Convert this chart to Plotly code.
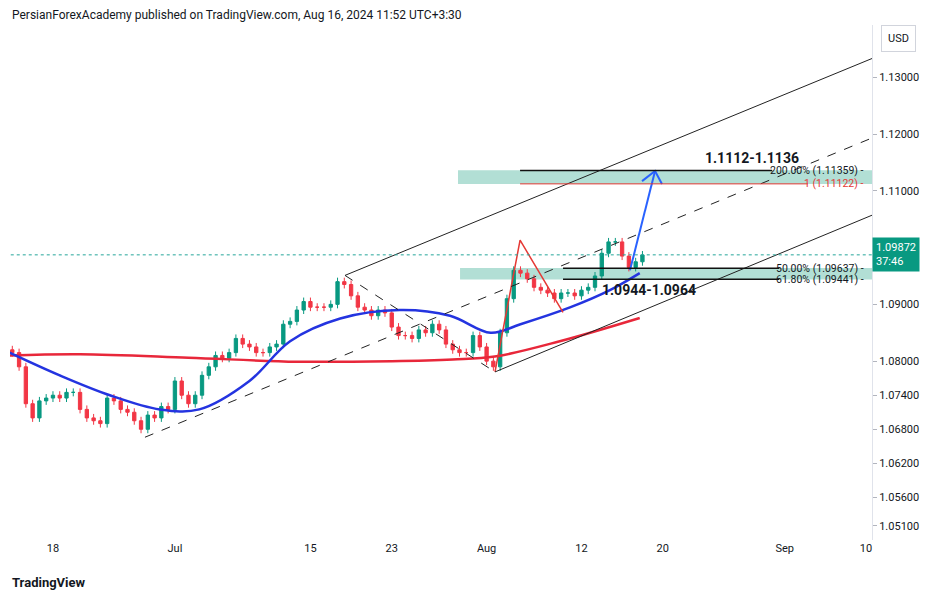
import plotly.graph_objects as go

# trading-day index: Jun 13 = -1, Jun 14 = 0, ... (weekends skipped), two bars per day
days = ["Jun13", "Jun14", "Jun17", "Jun18", "Jun19", "Jun20", "Jun21", "Jun24", "Jun25", "Jun26",
        "Jun27", "Jun28", "Jul1", "Jul2", "Jul3", "Jul4", "Jul5", "Jul8", "Jul9", "Jul10",
        "Jul11", "Jul12", "Jul15", "Jul16", "Jul17", "Jul18", "Jul19", "Jul22", "Jul23", "Jul24",
        "Jul25", "Jul26", "Jul29", "Jul30", "Jul31", "Aug1", "Aug2", "Aug5", "Aug6", "Aug7",
        "Aug8", "Aug9", "Aug12", "Aug13", "Aug14", "Aug15", "Aug16"]
closes = [1.0815, 1.0790, 1.0725, 1.0700, 1.0730, 1.0735, 1.0740, 1.0735, 1.0745, 1.0745,
          1.0715, 1.0700, 1.0695, 1.0690, 1.0735, 1.0730, 1.0715, 1.0710, 1.0695, 1.0680,
          1.0705, 1.0700, 1.0720, 1.0715, 1.0765, 1.0740, 1.0725, 1.0740, 1.0775, 1.0790,
          1.0810, 1.0805, 1.0815, 1.0840, 1.0830, 1.0825, 1.0815, 1.0815, 1.0825, 1.0830,
          1.0865, 1.0870, 1.0890, 1.0905, 1.0895, 1.0895, 1.0895, 1.0900, 1.0940, 1.0935,
          1.0915, 1.0895, 1.0890, 1.0880, 1.0890, 1.0885, 1.0860, 1.0845, 1.0845, 1.0840,
          1.0855, 1.0850, 1.0865, 1.0855, 1.0830, 1.0820, 1.0815, 1.0815, 1.0845, 1.0825,
          1.0800, 1.0790, 1.0850, 1.0910, 1.0960, 1.0955, 1.0945, 1.0930, 1.0925, 1.0920,
          1.0910, 1.0920, 1.0920, 1.0915, 1.0925, 1.0930, 1.0950, 1.0990, 1.1010, 1.1010,
          1.0985, 1.0965, 1.0975, 1.0987]
first_open = 1.0820
wick = 0.0007

ma_fast_x = [-1.2, 2.5, 6.2, 9.9, 12.8, 16.5, 19.5, 23.2, 27.6, 31.3, 34.3, 36.5, 40.2, 43.1, 45.3]
ma_fast_y = [1.0815, 1.0775, 1.0740, 1.0715, 1.0715, 1.0765, 1.0835, 1.0875, 1.0890, 1.0880,
             1.0850, 1.0865, 1.0895, 1.0925, 1.0955]
ma_slow_x = [-1.2, 4.0, 12.0, 20.0, 27.0, 31.5, 34.6, 39.4, 45.3]
ma_slow_y = [1.0810, 1.0812, 1.0806, 1.0799, 1.0800, 1.0803, 1.0808, 1.0835, 1.0876]

tick_idx = [2, 11, 21, 27, 34, 41, 47, 56, 62]
tick_txt = ["18", "Jul", "15", "23", "Aug", "12", "20", "Sep", "10"]
price_ticks = [1.13, 1.12, 1.11, 1.09, 1.08, 1.074, 1.068, 1.062, 1.056, 1.051]

# drawings (x in trading-day index, y in price)
channel = [((23.55, 1.0951), (62.44, 1.1333), "solid"),
           ((8.79, 1.0666), (62.44, 1.1193), "dash"),
           ((34.62, 1.0781), (62.44, 1.1057), "solid"),
           ((23.55, 1.0951), (34.62, 1.0781), "dash")]
zigzag_x = [34.62, 36.47, 39.64]
zigzag_y = [1.0781, 1.1013, 1.0886]
arrow_x = [44.58, 46.43]
arrow_y = [1.0960, 1.1135]
arrow_head_x = [45.47, 46.43, 46.94]
arrow_head_y = [1.1117, 1.1135, 1.1112]
zone_hi = (31.89, 1.1112, 1.1136)
zone_lo = (32.04, 1.0944, 1.0964)
last_price = 1.09872

x, o, h, l, c = [], [], [], [], []
prev = first_open
for i, cl in enumerate(closes):
    x.append(-1 + i * 0.5)
    o.append(prev)
    c.append(cl)
    h.append(max(prev, cl) + wick)
    l.append(min(prev, cl) - wick)
    prev = cl

fig = go.Figure()
fig.add_trace(go.Candlestick(x=x, open=o, high=h, low=l, close=c,
                             increasing=dict(line=dict(color="#089981", width=1), fillcolor="#089981"),
                             decreasing=dict(line=dict(color="#F23645", width=1), fillcolor="#F23645"),
                             whiskerwidth=0, showlegend=False, hoverinfo="skip"))
fig.add_trace(go.Scatter(x=ma_slow_x, y=ma_slow_y, mode="lines", line=dict(color="#e8273a", width=2.5, shape="spline"),
                         showlegend=False, hoverinfo="skip"))
fig.add_trace(go.Scatter(x=ma_fast_x, y=ma_fast_y, mode="lines", line=dict(color="#2434e0", width=2.5, shape="spline"),
                         showlegend=False, hoverinfo="skip"))

for (x0, y0), (x1, y1), dash in channel:
    fig.add_shape(type="line", x0=x0, y0=y0, x1=x1, y1=y1, line=dict(color="#222", width=1, dash=dash))
fig.add_trace(go.Scatter(x=zigzag_x, y=zigzag_y, mode="lines", line=dict(color="#e53935", width=1.5),
                         showlegend=False, hoverinfo="skip"))
fig.add_trace(go.Scatter(x=arrow_x, y=arrow_y, mode="lines", line=dict(color="#2962ff", width=2),
                         showlegend=False, hoverinfo="skip"))
fig.add_trace(go.Scatter(x=arrow_head_x, y=arrow_head_y, mode="lines", line=dict(color="#2962ff", width=2),
                         showlegend=False, hoverinfo="skip"))

# zones and fib levels
xr = 62.44
for x0, lo, hi in [zone_hi, zone_lo]:
    fig.add_shape(type="rect", x0=x0, x1=xr, y0=lo, y1=hi, fillcolor="#b2dfd5", line_width=0, layer="below")
fib = [(36.47, 55.07, 1.11359, "#111", 1.5, "200.00% (1.11359)"),
       (36.47, 57.7, 1.11122, "#e53935", 1, "1 (1.11122)"),
       (39.64, 55.6, 1.09637, "#111", 1.5, "50.00% (1.09637)"),
       (39.64, 55.6, 1.09441, "#111", 1.5, "61.80% (1.09441)")]
for x0, x1, yv, col, w, label in fib:
    fig.add_shape(type="line", x0=x0, x1=x1, y0=yv, y1=yv, line=dict(color=col, width=w))
    fig.add_annotation(x=61.9, y=yv, text=label + " -", showarrow=False, xanchor="right", borderpad=0,
                       font=dict(size=10.5, color="#e53935" if col != "#111" else "#131722"))
fig.add_shape(type="line", x0=-2, x1=xr, y0=last_price, y1=last_price, line=dict(color="#26a69a", width=1, dash="dot"))

fig.add_annotation(x=53.6, y=1.1158, text="<b>1.1112-1.1136</b>", showarrow=False, font=dict(size=14, color="#131722"))
fig.add_annotation(x=46.0, y=1.0925, text="<b>1.0944-1.0964</b>", showarrow=False, font=dict(size=14, color="#131722"))

fig.add_annotation(xref="paper", x=1.0, y=last_price, text="1.09872<br>37:46", showarrow=False, xanchor="left",
                   bgcolor="#089981", font=dict(color="white", size=11), borderpad=3, align="left")
fig.add_annotation(xref="paper", yref="paper", x=1.01, y=1.0, text="USD", showarrow=False, xanchor="left",
                   yanchor="top", bordercolor="#d1d4dc", borderwidth=1, borderpad=6, font=dict(size=11, color="#131722"))
fig.add_annotation(xref="paper", yref="paper", x=0.0, y=1.019,
                   text="PersianForexAcademy published on TradingView.com, Aug 16, 2024 11:52 UTC+3:30",
                   showarrow=False, xanchor="left", yanchor="middle", font=dict(size=12, color="#131722"))
fig.add_annotation(xref="paper", yref="paper", x=0.0, y=-0.083, text="<b>TradingView</b>", showarrow=False,
                   xanchor="left", yanchor="middle", font=dict(size=13, color="#131722"))

# page body has an 8px margin, so the figure is sized and offset to land on the reference pixels
fig.update_layout(
    width=932, height=593, margin=dict(l=2, r=68, t=17, b=61),
    paper_bgcolor="white", plot_bgcolor="white",
    font=dict(family="Roboto, Arial, sans-serif", size=11, color="#131722"),
    xaxis=dict(range=[-1.17, 62.44], tickvals=tick_idx, ticktext=tick_txt, showgrid=False, zeroline=False,
               rangeslider=dict(visible=False), showline=False, ticks=""),
    yaxis=dict(range=[1.0485, 1.1392], side="right", tickvals=price_ticks, tickformat=".5f",
               showgrid=False, zeroline=False, showline=True, linecolor="#e0e3eb", ticks="outside",
               ticklen=4, tickcolor="#b2b5be"),
)
fig.write_html("out.html")
